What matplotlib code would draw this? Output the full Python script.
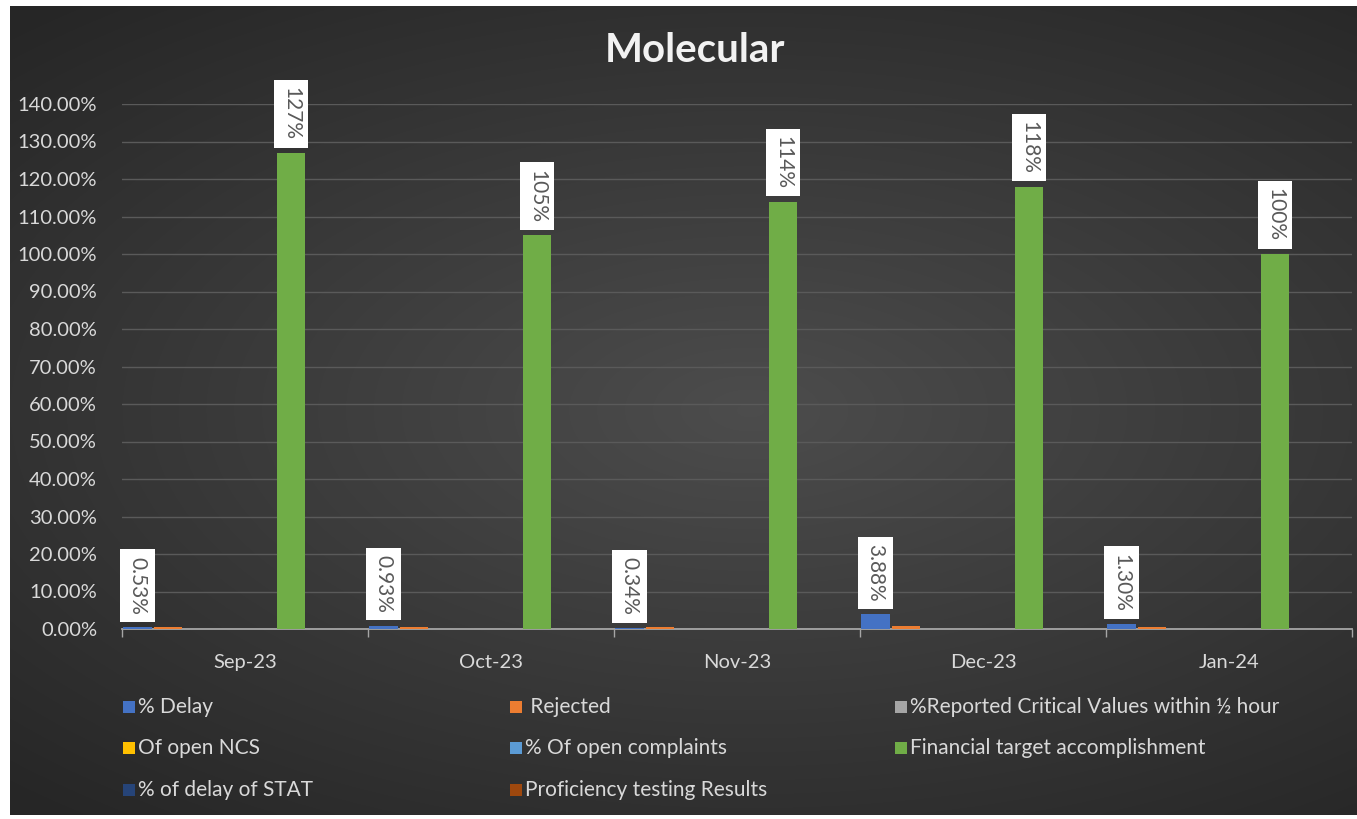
import numpy as np
import matplotlib
matplotlib.use("Agg")
import matplotlib.pyplot as plt
from matplotlib.patches import Rectangle
from matplotlib.ticker import FuncFormatter

plt.rcParams["font.family"] = ["Lato", "DejaVu Sans"]

months = ["Sep-23", "Oct-23", "Nov-23", "Dec-23", "Jan-24"]
series = ["% Delay", " Rejected", "%Reported Critical Values within \u00bd hour",
          "Of open NCS", "% Of open complaints", "Financial target accomplishment",
          "% of delay of STAT", "Proficiency testing Results"]
colors = ["#4472C4", "#ED7D31", "#A5A5A5", "#FFC000",
          "#5B9BD5", "#70AD47", "#264478", "#9E480E"]

delay = [0.53, 0.93, 0.34, 3.88, 1.30]
rejected = [0.45, 0.50, 0.45, 0.70, 0.65]
critical = [0, 0, 0, 0, 0]
open_ncs = [0, 0, 0, 0, 0]
complaints = [0, 0, 0, 0, 0]
financial = [127, 105, 114, 118, 100]
stat_delay = [0, 0, 0, 0, 0]
proficiency = [0, 0, 0, 0, 0]
values = [delay, rejected, critical, open_ncs, complaints, financial, stat_delay, proficiency]

W, H = 1357, 819
fig = plt.figure(figsize=(W / 100, H / 100), dpi=100)
fig.patch.set_facecolor("white")

# dark radial background of the chart area
bg = fig.add_axes([10 / W, 4 / H, 1 - 10 / W, 1 - 10 / H])
yy, xx = np.mgrid[0:1:300j, 0:1:500j]
r = np.sqrt(((xx - 0.55) / 0.9) ** 2 + ((yy - 0.5) / 0.75) ** 2)
shade = np.clip(0.30 - 0.17 * r, 0.15, 0.30)
bg.imshow(np.dstack([shade] * 3), aspect="auto", extent=[0, 1, 0, 1], interpolation="bicubic")
bg.set_axis_off()

ax = fig.add_axes([122 / W, 1 - 629 / H, (1352 - 122) / W, (629 - 104) / H])
ax.set_facecolor("none")


def label_bars(bars, vals, fmt):
    for b, v in zip(bars, vals):
        ax.annotate(fmt.format(v), (b.get_x() + b.get_width() / 2, v), xytext=(0, 9),
                    textcoords="offset points", rotation=270, ha="center", va="bottom",
                    fontsize=15, color="#595959", annotation_clip=False, zorder=5,
                    bbox=dict(boxstyle="square,pad=0.35", fc="white", ec="none"))


x = np.arange(len(months))
n = len(series)
w = 1 / n
for j, (vals, c) in enumerate(zip(values, colors)):
    pos = x + (j - (n - 1) / 2) * w
    bars = ax.bar(pos, vals, width=w * 0.92, color=c, zorder=3)
    if j == 0:
        label_bars(bars, vals, "{:.2f}%")
    if j == 5:
        label_bars(bars, vals, "{:.0f}%")

ax.set_xlim(-0.5, len(months) - 0.5)
ax.set_ylim(0, 140)
ax.set_yticks(np.arange(0, 141, 10))
ax.yaxis.set_major_formatter(FuncFormatter(lambda v, _: f"{v:.2f}%"))
ax.set_xticks(x)
ax.set_xticklabels(months)
ax.set_xticks(np.arange(-0.5, len(months)), minor=True)
ax.tick_params(axis="x", which="major", length=0, pad=18, labelsize=14.5, colors="#d9d9d9")
ax.tick_params(axis="x", which="minor", length=6, width=1, color="#a6a6a6")
ax.tick_params(axis="y", length=0, pad=18, labelsize=14.5, colors="#d9d9d9")
ax.grid(axis="y", color="#5a5a5a", linewidth=1, zorder=0)
for s in ["top", "right", "left"]:
    ax.spines[s].set_visible(False)
ax.spines["bottom"].set_color("#a6a6a6")
ax.spines["bottom"].set_linewidth(1.3)

fig.text(695 / W, 1 - 50 / H, "Molecular", ha="center", va="center",
         fontsize=29, fontweight="bold", color="#f2f2f2")

# legend, three columns
col_x = [123, 510, 895]
row_y = [707, 748, 790]
for k, (name, c) in enumerate(zip(series, colors)):
    cx = col_x[k % 3]
    cy = row_y[k // 3]
    fig.patches.append(Rectangle((cx / W, 1 - (cy + 6) / H), 12 / W, 12 / H,
                                 transform=fig.transFigure, facecolor=c, edgecolor="none"))
    fig.text((cx + 15) / W, 1 - cy / H, name, ha="left", va="center",
             fontsize=15, color="#d9d9d9")

fig.savefig("out.png", dpi=100)
